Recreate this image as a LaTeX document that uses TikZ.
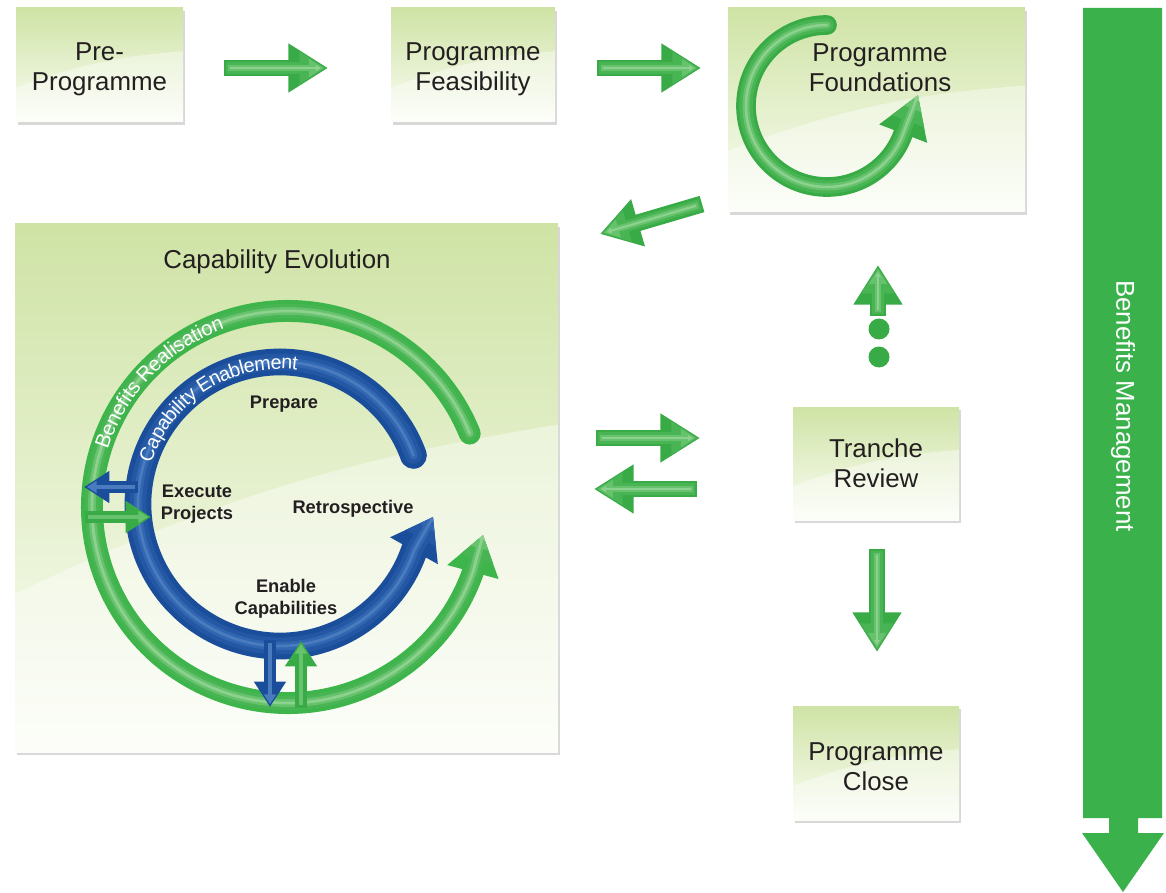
\documentclass[tikz,border=0pt]{standalone}
\usepackage{fontspec}
\setmainfont{Liberation Sans}
\usepackage{tikz}
\usetikzlibrary{calc,arrows.meta,bending,shadows,decorations.text}
\definecolor{ink}{HTML}{231F20}
\definecolor{boxtop}{HTML}{CFE3A5}
\definecolor{boxbot}{HTML}{FBFDF6}
\definecolor{leaf}{HTML}{38AB46}
\definecolor{leafmid}{HTML}{48B453}
\definecolor{leafsoft}{HTML}{66C26C}
\definecolor{leaflight}{HTML}{8DD18E}
\definecolor{ringgreen}{HTML}{3DB54B}
\definecolor{navy}{HTML}{1A4D9A}
\definecolor{navymid}{HTML}{2458A5}
\definecolor{navysoft}{HTML}{3166B0}
\definecolor{navylight}{HTML}{4A7BBE}
\definecolor{mgmt}{HTML}{3AB14B}
\newcommand{\pxu}{0.025cm}
\tikzset{
  phaselab/.style={font=\fontsize{18.4}{21.5}\selectfont, text=ink, align=center},
  phase/.style={phaselab, rectangle, inner sep=0pt, top color=boxtop, bottom color=boxbot,
    drop shadow={shadow xshift=1.6pt, shadow yshift=-1.8pt, opacity=.3},
    path picture={
      \fill[white, opacity=.4] (path picture bounding box.south west)
        -- ($(path picture bounding box.south west)!.3!(path picture bounding box.north west)$)
        to[bend left=8] ($(path picture bounding box.south east)!.62!(path picture bounding box.north east)$)
        -- (path picture bounding box.south east) -- cycle;}},
  steplab/.style={font=\bfseries\fontsize{13}{15.8}\selectfont, text=ink, align=center},
  blockarr/.style={line width=#1, -{Triangle[length=0pt 2.35 0, width=0pt 2.75 0]}},
  smallarr/.style={line width=#1, -{Triangle[length=0pt 2.0 0, width=0pt 2.4 0]}},
  ringarr/.style 2 args={line cap=round, line join=round,
    -{Triangle[length=0pt #1 0, width=0pt #2 0]}},
  dot/.style={circle, fill=leaf, inner sep=0pt, minimum size=21*\pxu},
  ringtext/.style 2 args={decorate, decoration={text along path, text align=center, raise=-5pt,
    text={|\color{white}\fontsize{#1}{16}\selectfont|#2}}}
}

\begin{document}
\begin{tikzpicture}[x=\pxu, y=\pxu]
  \useasboundingbox[fill=white] (0,0) rectangle (1166,-893);

  % phase boxes
  \node[phase, minimum width=167*\pxu, minimum height=114*\pxu, text height=40.5pt] (pre) at (99.5,-65) {Pre-\\Programme};
  \node[phase, minimum width=164*\pxu, minimum height=114*\pxu, text height=40.5pt] (feas) at (473,-65) {Programme\\Feasibility};
  \node[phase, minimum width=297*\pxu, minimum height=204*\pxu] (found) at (876.5,-110) {};
  \node[phase, minimum width=543*\pxu, minimum height=528*\pxu] (capevo) at (286.5,-488) {};
  \node[phase, minimum width=166*\pxu, minimum height=113*\pxu] (tranche) at (876,-463.5) {Tranche\\Review};
  \node[phase, minimum width=166*\pxu, minimum height=114*\pxu, text height=39pt] (close) at (876,-763) {Programme\\Close};

  % foundations loop
  \coordinate (fc) at (827,-106);
  \coordinate (ftip) at (918,-95);
  \foreach \w/\c in {14pt/leaf, 9.5pt/leafmid, 5pt/leafsoft, 1.8pt/leaflight}
    \draw[ringarr={2.1}{2.45}, line width=\w, draw=\c] ($(fc)+(90:81)$)
      arc[start angle=90, end angle=340, radius=81] -- (ftip);
  \node[phaselab] (foundlbl) at (880,-68) {Programme\\Foundations};

  % block arrows between phases
  \coordinate (p1s) at (224,-68);  \coordinate (p1e) at (328,-68);
  \coordinate (p2s) at (597,-68);  \coordinate (p2e) at (701,-68);
  \coordinate (p3s) at (702,-204); \coordinate (p3e) at (600,-234);
  \coordinate (p4s) at (596,-438); \coordinate (p4e) at (700,-438);
  \coordinate (p5s) at (697,-489); \coordinate (p5e) at (594,-489);
  \coordinate (p6s) at (878,-316); \coordinate (p6e) at (878,-265);
  \coordinate (p7s) at (877,-549); \coordinate (p7e) at (877,-652);
  \foreach \s/\e in {p1s/p1e, p2s/p2e, p3s/p3e, p4s/p4e, p5s/p5e, p6s/p6e, p7s/p7e}{
    \draw[blockarr=12pt, draw=leaf] (\s) -- (\e);
    \draw[blockarr=8pt, draw=leafmid, shorten <=1.5pt, shorten >=1.5pt] (\s) -- (\e);
    \draw[blockarr=4.5pt, draw=leafsoft, shorten <=3pt, shorten >=3pt] (\s) -- (\e);
    \draw[blockarr=1.5pt, draw=leaflight, shorten <=4.5pt, shorten >=5pt] (\s) -- (\e);
  }
  \node[dot] (d1) at (879,-329) {};
  \node[dot] (d2) at (879,-357) {};

  % capability evolution cycle
  \node[phaselab] (cetitle) at (277,-262) {Capability Evolution};
  \coordinate (gc) at (288,-507);
  \coordinate (gtip) at (483,-535);
  \foreach \w/\c in {15.6pt/ringgreen, 10pt/leafmid, 5.5pt/leafsoft, 2pt/leaflight}
    \draw[ringarr={1.75}{2.3}, line width=\w, draw=\c] ($(gc)+(22:196)$)
      arc[start angle=22, end angle=340.7, radius=196] -- (gtip);
  \coordinate (bc) at (280,-504);
  \coordinate (btip) at (433,-517);
  \foreach \w/\c in {19pt/navy, 12pt/navymid, 6pt/navysoft, 2pt/navylight}
    \draw[ringarr={1.45}{1.95}, line width=\w, draw=\c] ($(bc)+(20:142)$)
      arc[start angle=20, end angle=341, radius=142] -- (btip);

  % hand-over arrows between the rings
  \coordinate (xb1) at (138,-487); \coordinate (xb2) at (84,-487);
  \coordinate (xg1) at (85,-517);  \coordinate (xg2) at (151,-517);
  \coordinate (yb1) at (270,-640); \coordinate (yb2) at (270,-707);
  \coordinate (yg1) at (301,-708); \coordinate (yg2) at (301,-641);
  \foreach \s/\e/\c/\m in {xb1/xb2/navy/navylight, yb1/yb2/navy/navylight,
                           xg1/xg2/leaf/leafsoft, yg1/yg2/leaf/leafsoft}{
    \draw[smallarr=9pt, draw=\c] (\s) -- (\e);
    \draw[smallarr=3.5pt, draw=\m, shorten <=2pt, shorten >=2pt] (\s) -- (\e);
  }

  \path[ringtext={14.5}{Benefits Realisation}] ($(gc)+(168:196)$) arc[start angle=168, end angle=104, radius=196];
  \path[ringtext={14}{Capability Enablement}] ($(bc)+(172:142)$) arc[start angle=172, end angle=73, radius=142];

  \node[steplab] (prep) at (284,-404) {Prepare};
  \node[steplab] (exec) at (197,-504) {Execute\\Projects};
  \node[steplab] (retro) at (353,-509) {Retrospective};
  \node[steplab] (enab) at (286,-599) {Enable\\Capabilities};

  % benefits management bar
  \fill[mgmt] (1083,-8) -- (1162,-8) -- (1162,-818) -- (1138,-818) -- (1138,-833)
    -- (1164,-833) -- (1123,-892) -- (1082,-833) -- (1109,-833) -- (1109,-818)
    -- (1083,-818) -- cycle;
  \node[phaselab, text=white, rotate=-90] (bm) at (1123,-406) {Benefits Management};
\end{tikzpicture}
\end{document}
